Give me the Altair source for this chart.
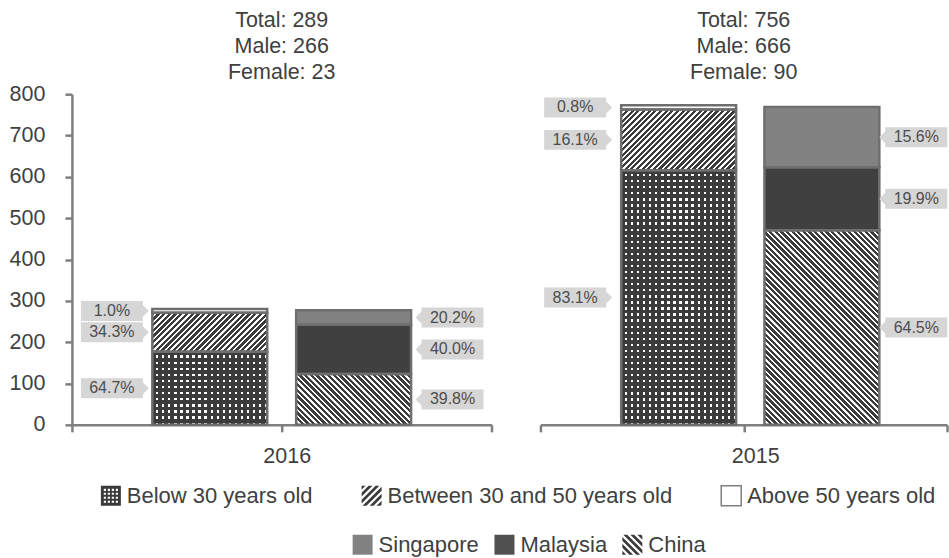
import math
import altair as alt
import pandas as pd

# ---------------- data ----------------
years = ["2016", "2015"]
totals = [289, 756]
males = [266, 666]
females = [23, 90]

age_labels = ["Below 30 years old", "Between 30 and 50 years old", "Above 50 years old"]
nat_labels = ["Singapore", "Malaysia", "China"]

# stacked bottom -> top
age_keys = ["below30", "between", "above"]
nat_keys = ["china", "malaysia", "singapore"]
age_2016 = [177, 94, 9]
nat_2016 = [123, 119, 35]
age_2015 = [616, 147, 10]
nat_2015 = [471, 152, 146]
age_pct_2016 = ["64.7%", "34.3%", "1.0%"]
nat_pct_2016 = ["39.8%", "40.0%", "20.2%"]
age_pct_2015 = ["83.1%", "16.1%", "0.8%"]
nat_pct_2015 = ["64.5%", "19.9%", "15.6%"]
y_ticks = [0, 100, 200, 300, 400, 500, 600, 700, 800]

# ---------------- styles ----------------
FONT = "Liberation Sans"
TXT = "#404040"
AX = "#7f7f7f"
DARK = "#3b3b3b"
SEG_STROKE = "#6e6e6e"
BOX = "#d6d6d6"
PLOT_H = 331
BAR_W = 115
FS = 21.5


def year_frame(age_vals, nat_vals, age_pct, nat_pct):
    rows = []
    for i, (k, v, p) in enumerate(zip(age_keys, age_vals, age_pct)):
        rows.append(dict(group="age", seg=k, order=i, value=v, pct=p))
    for i, (k, v, p) in enumerate(zip(nat_keys, nat_vals, nat_pct)):
        rows.append(dict(group="nat", seg=k, order=i, value=v, pct=p))
    return pd.DataFrame(rows)


def stripes(n, on_frac, off_col, on_col, x1, y1, x2, y2):
    stops = []
    for i in range(n):
        a = i / n
        b = (i + 1 - on_frac) / n
        c = (i + 1) / n
        stops += [dict(offset=a, color=off_col), dict(offset=b, color=off_col),
                  dict(offset=b, color=on_col), dict(offset=c, color=on_col)]
    return dict(gradient="linear", x1=x1, y1=y1, x2=x2, y2=y2, stops=stops)


def hatch(w, hh, forward, period=4.0, on_frac=0.42):
    k = (w + hh) / (w * w + hh * hh)
    n = max(1, round((w + hh) / math.sqrt(2) / period))
    if forward:
        return stripes(n, on_frac, DARK, "#ffffff", 0, 0, k * w, k * hh)
    return stripes(n, on_frac, DARK, "#ffffff", 0, 1, k * w, 1 - k * hh)


LEFT_CALLOUT = "M-31,-10L31,-10L31,-6L37,0L31,6L31,10L-31,10Z"
RIGHT_CALLOUT = "M31,-10L-31,-10L-31,-6L-37,0L-31,6L-31,10L31,10Z"


def panel(df, year, total, male, female, width, age_dx, nat_dx, age_lab_dx, nat_lab_dx,
          show_y, title_offset):
    py = PLOT_H / 800.0
    h = {k: v * py for k, v in zip(df.seg, df.value)}

    base = alt.Chart(df).transform_stack(
        stack="value", groupby=["group"], as_=["y0", "y1"],
        sort=[alt.SortField("order", order="ascending")]
    ).transform_calculate(mid="(datum.y0 + datum.y1) / 2")

    xaxis = alt.Axis(title=year, labels=False, tickBand="extent", domainColor=AX, domainWidth=2.5,
                     tickColor=AX, tickWidth=2.5, tickSize=7, titleFont=FONT, titleFontSize=FS,
                     titleFontWeight="normal", titleColor=TXT, titlePadding=12, titleX=215)
    xenc = alt.X("group:N", scale=alt.Scale(domain=["age", "nat"], paddingInner=0, paddingOuter=0),
                 axis=xaxis)
    if show_y:
        yaxis = alt.Axis(values=y_ticks, title=None, grid=False, domainColor=AX, domainWidth=2.5,
                         tickColor=AX, tickWidth=2.5, tickSize=7, labelFont=FONT, labelFontSize=FS,
                         labelColor=TXT, labelPadding=20)
    else:
        yaxis = None

    def yq(field):
        return alt.Y(f"{field}:Q", scale=alt.Scale(domain=[0, 800], nice=False), axis=yaxis)

    def seg_bar(key, dx, **kw):
        return base.transform_filter(alt.datum.seg == key).mark_bar(
            width=BAR_W, xOffset=dx, **kw).encode(x=xenc, y=yq("y0"), y2=alt.Y2("y1:Q"))

    n_rows = max(1, round(h["below30"] / 6.0))
    n_cols = round(BAR_W / 6.1)
    layers = [
        seg_bar("below30", age_dx, fill=stripes(n_rows, 2.3 / 6, DARK, "#ffffff", 0, 0, 0, 1)),
        seg_bar("below30", age_dx, fill=stripes(n_cols, 2.3 / 6.1, DARK, "rgba(0,0,0,0)", 0, 0, 1, 0)),
        seg_bar("between", age_dx, fill=hatch(BAR_W, h["between"], True)),
        seg_bar("above", age_dx, fill="#ffffff"),
        seg_bar("china", nat_dx, fill=hatch(BAR_W, h["china"], False)),
        seg_bar("malaysia", nat_dx, fill="#404040"),
        seg_bar("singapore", nat_dx, fill="#828282"),
    ]
    for grp, dx in (("age", age_dx), ("nat", nat_dx)):
        layers.append(base.transform_filter(alt.datum.group == grp).mark_bar(
            width=BAR_W, xOffset=dx, fillOpacity=0, stroke=SEG_STROKE, strokeWidth=2.5
        ).encode(x=xenc, y=yq("y0"), y2=alt.Y2("y1:Q")))
    for grp, dx, shp in (("age", age_lab_dx, LEFT_CALLOUT), ("nat", nat_lab_dx, RIGHT_CALLOUT)):
        sub = base.transform_filter(alt.datum.group == grp)
        layers.append(sub.mark_point(shape=shp, size=4, filled=True, fill=BOX, opacity=1,
                                     strokeWidth=0, xOffset=dx).encode(x=xenc, y=yq("mid")))
        layers.append(sub.mark_text(font=FONT, fontSize=16, color="#4d4d4d", xOffset=dx,
                                    align="center", baseline="middle").encode(
            x=xenc, y=yq("mid"), text="pct:N"))

    return alt.layer(*layers).properties(
        width=width, height=PLOT_H,
        title=alt.TitleParams(text=[f"Total: {total}", f"Male: {male}", f"Female: {female}"],
                              font=FONT, fontSize=FS, fontWeight="normal", color=TXT,
                              lineHeight=26, anchor="middle", frame="group", offset=title_offset),
    )


# ---------------- legend symbols ----------------
def sq(x0, y0, x1, y1, ccw=False):
    if not ccw:
        return f"M{x0:.3f},{y0:.3f}L{x1:.3f},{y0:.3f}L{x1:.3f},{y1:.3f}L{x0:.3f},{y1:.3f}Z"
    return f"M{x0:.3f},{y0:.3f}L{x0:.3f},{y1:.3f}L{x1:.3f},{y1:.3f}L{x1:.3f},{y0:.3f}Z"


def clip_poly(poly, a, b, c):
    out = []
    n = len(poly)
    for i in range(n):
        p = poly[i]
        q = poly[(i + 1) % n]
        fp = a * p[0] + b * p[1] - c
        fq = a * q[0] + b * q[1] - c
        if fp <= 0:
            out.append(p)
        if (fp < 0 < fq) or (fq < 0 < fp):
            t = fp / (fp - fq)
            out.append((p[0] + t * (q[0] - p[0]), p[1] + t * (q[1] - p[1])))
    return out


def hatch_path(forward, period=0.7, dark=0.55):
    sqr = [(-1, -1), (1, -1), (1, 1), (-1, 1)]
    b = 1 if forward else -1
    parts = []
    c = -2.0
    while c < 2.0:
        poly = clip_poly(sqr, 1, b, c + period * dark)
        poly = clip_poly(poly, -1, -b, -c)
        if len(poly) >= 3:
            parts.append("M" + "L".join(f"{x:.3f},{y:.3f}" for x, y in poly) + "Z")
        c += period
    return "".join(parts)


centers = [-0.6, -0.2, 0.2, 0.6]
DOTS_PATH = sq(-1, -1, 1, 1) + "".join(
    sq(cx - 0.11, cy - 0.11, cx + 0.11, cy + 0.11, ccw=True) for cx in centers for cy in centers)
FWD_PATH = hatch_path(True)
BACK_PATH = hatch_path(False)


def legend_layer(field, cats, shapes, fills, strokes, lx, ly, colpad):
    leg = alt.Legend(orient="none", legendX=lx, legendY=ly, direction="horizontal", title=None,
                     labelFont=FONT, labelFontSize=22, labelColor=TXT, labelLimit=500,
                     symbolSize=400, symbolStrokeWidth=1.5, labelOffset=5, columnPadding=colpad,
                     padding=0)
    return alt.Chart(pd.DataFrame({"k": [0]})).transform_filter("false").mark_point(
        filled=True, opacity=1, size=400).encode(
        shape=alt.Shape(f"{field}:N", scale=alt.Scale(domain=cats, range=shapes), legend=leg),
        fill=alt.Fill(f"{field}:N", scale=alt.Scale(domain=cats, range=fills), legend=leg),
        stroke=alt.Stroke(f"{field}:N", scale=alt.Scale(domain=cats, range=strokes), legend=leg),
    )


legend_chart = alt.layer(
    legend_layer("age_cat", age_labels, [DOTS_PATH, FWD_PATH, "square"],
                 [DARK, DARK, "#ffffff"], ["transparent", "transparent", AX], 28, 14, 46),
    legend_layer("nat_cat", nat_labels, ["square", "square", BACK_PATH],
                 ["#828282", "#505050", DARK], ["transparent", "transparent", "transparent"],
                 280, 63, 12),
).resolve_scale(shape="independent", fill="independent", stroke="independent").properties(
    width=600, height=40)

left = panel(year_frame(age_2016, nat_2016, age_pct_2016, nat_pct_2016), years[0], totals[0],
             males[0], females[0], 420, 33, -33, -65, 66, True, 0)
right = panel(year_frame(age_2015, nat_2015, age_pct_2015, nat_pct_2015), years[1], totals[1],
              males[1], females[1], 407, 36.6, -23.5, -67, 71, False, 10.75)

chart = alt.vconcat(alt.hconcat(left, right, spacing=45), legend_chart, spacing=4).properties(
    padding={"left": 9, "top": 9, "right": 0, "bottom": 0}
).configure_view(strokeWidth=0)

chart.save("out.html", embed_options={"renderer": "svg", "actions": False})
